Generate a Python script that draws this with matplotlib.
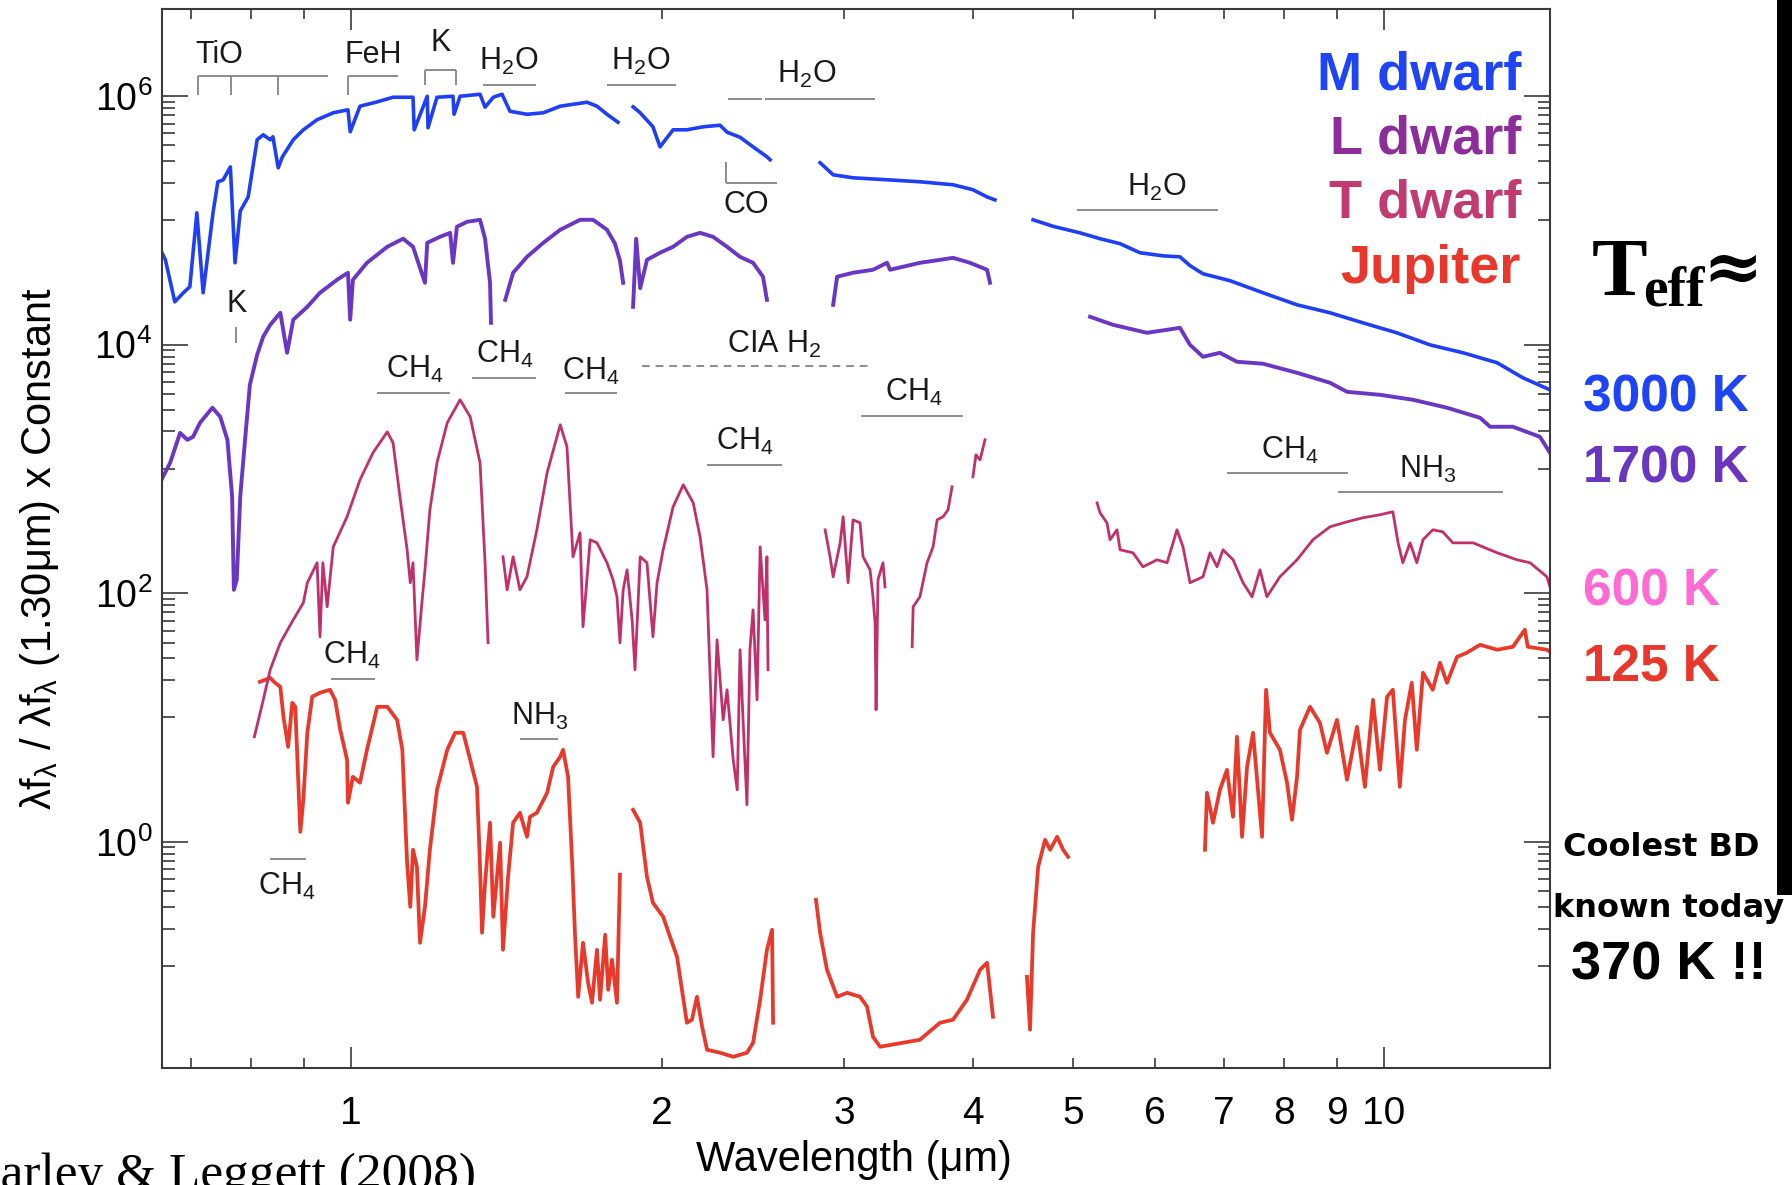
import numpy as np
import matplotlib
matplotlib.use("Agg")
import matplotlib.pyplot as plt
from matplotlib.ticker import FixedLocator, FuncFormatter, NullFormatter
from matplotlib.patches import Rectangle

# ---------------- data (wavelength in micron, log10 of scaled flux) ----------------
# M dwarf (3000 K)
m_wl_a = [0.656, 0.661, 0.675, 0.688, 0.698, 0.709, 0.719, 0.735, 0.743, 0.752, 0.764, 0.772, 0.781, 0.795, 0.811,
          0.822, 0.835, 0.840, 0.850, 0.858, 0.879, 0.899, 0.927, 0.961, 0.993, 0.998, 1.020, 1.060, 1.098, 1.148,
          1.151, 1.185, 1.187, 1.211, 1.255, 1.258, 1.275, 1.333, 1.348, 1.373, 1.400, 1.425, 1.480, 1.535, 1.594,
          1.692, 1.730, 1.769, 1.813]
m_lf_a = [4.739, 4.682, 4.344, 4.417, 4.465, 5.060, 4.417, 5.060, 5.310, 5.326, 5.430, 4.658, 5.074, 5.189, 5.648,
          5.688, 5.648, 5.672, 5.422, 5.511, 5.648, 5.728, 5.809, 5.865, 5.889, 5.712, 5.918, 5.953, 5.990, 5.990,
          5.728, 5.998, 5.744, 5.990, 5.998, 5.853, 5.998, 6.014, 5.910, 5.990, 6.014, 5.877, 5.853, 5.865, 5.918,
          5.950, 5.918, 5.853, 5.789]
m_wl_b = [1.875, 1.905, 1.960, 1.991, 2.050, 2.114, 2.191, 2.276, 2.312, 2.380, 2.450, 2.527, 2.545]
m_lf_b = [5.913, 5.865, 5.752, 5.591, 5.728, 5.728, 5.752, 5.765, 5.709, 5.668, 5.591, 5.511, 5.487]
m_wl_c = [2.845, 2.929, 3.062, 3.303, 3.554, 3.826, 4.0, 4.128, 4.201]
m_lf_c = [5.463, 5.366, 5.342, 5.326, 5.310, 5.286, 5.246, 5.188, 5.164]
m_wl_d = [4.574, 4.781, 5.078, 5.310, 5.553, 5.804, 6.112, 6.346, 6.49, 6.68, 7.095, 7.636, 8.239, 8.866, 9.543,
          10.29, 11.08, 11.93, 12.87, 13.63, 14.48]
m_lf_d = [5.004, 4.952, 4.899, 4.852, 4.812, 4.739, 4.714, 4.706, 4.635, 4.570, 4.514, 4.417, 4.320, 4.256, 4.175,
          4.095, 3.998, 3.934, 3.854, 3.733, 3.636]

# L dwarf (1700 K)
l_wl_a = [0.653, 0.668, 0.683, 0.694, 0.703, 0.714, 0.734, 0.747, 0.759, 0.767, 0.770, 0.775, 0.781, 0.786, 0.791,
          0.798, 0.811, 0.822, 0.835, 0.854, 0.867, 0.879, 0.907, 0.933, 0.969, 0.993, 0.998, 1.004, 1.036, 1.084,
          1.123, 1.148, 1.179, 1.185, 1.219, 1.247, 1.255, 1.266, 1.295, 1.333, 1.348, 1.363, 1.366]
l_lf_a = [2.888, 3.049, 3.290, 3.234, 3.258, 3.371, 3.492, 3.419, 3.234, 2.776, 2.027, 2.108, 2.776, 3.049, 3.315,
          3.677, 3.918, 4.063, 4.159, 4.256, 3.934, 4.200, 4.304, 4.417, 4.521, 4.578, 4.200, 4.521, 4.658, 4.787,
          4.852, 4.787, 4.497, 4.819, 4.867, 4.899, 4.658, 4.948, 4.988, 5.004, 4.852, 4.497, 4.175]
l_wl_b = [1.410, 1.435, 1.480, 1.535, 1.594, 1.666, 1.715, 1.769, 1.801, 1.821, 1.834]
l_lf_b = [4.360, 4.578, 4.706, 4.819, 4.924, 5.004, 5.004, 4.924, 4.812, 4.675, 4.497]
l_wl_c = [1.875, 1.888, 1.905, 1.934, 1.991, 2.050, 2.114, 2.177, 2.241, 2.312, 2.380, 2.450, 2.505, 2.527]
l_lf_c = [4.304, 4.852, 4.454, 4.682, 4.739, 4.787, 4.867, 4.899, 4.867, 4.787, 4.706, 4.658, 4.546, 4.360]
l_wl_d = [2.929, 2.955, 3.062, 3.201, 3.303, 3.325, 3.554, 3.717, 3.826, 3.974, 4.128, 4.155]
l_lf_d = [4.320, 4.546, 4.578, 4.602, 4.658, 4.602, 4.658, 4.682, 4.698, 4.658, 4.602, 4.497]
l_wl_e = [5.193, 5.467, 5.897, 6.166, 6.346, 6.49, 6.68, 6.937, 7.206, 7.636, 8.239, 8.866, 9.209, 9.911, 10.67,
          11.51, 12.39, 12.67, 13.33, 14.16, 14.48]
l_lf_e = [4.224, 4.159, 4.095, 4.119, 4.135, 3.998, 3.902, 3.934, 3.862, 3.846, 3.773, 3.693, 3.620, 3.596, 3.556,
          3.492, 3.411, 3.339, 3.339, 3.258, 3.129]

# T dwarf (600 K)
t_wl_a = [0.806, 0.820, 0.835, 0.854, 0.879, 0.899, 0.907, 0.927, 0.933, 0.939, 0.948, 0.961, 0.991, 1.020, 1.050,
          1.084, 1.098, 1.115, 1.133, 1.141, 1.148, 1.158, 1.171, 1.179, 1.192, 1.211, 1.239, 1.275, 1.304, 1.333,
          1.348, 1.357]
t_lf_a = [0.845, 1.102, 1.384, 1.601, 1.786, 1.923, 2.084, 2.245, 1.649, 2.245, 1.891, 2.373, 2.615, 2.912, 3.130,
          3.298, 3.210, 2.776, 2.349, 2.084, 2.245, 1.464, 1.923, 2.188, 2.671, 3.049, 3.371, 3.556, 3.419, 3.049,
          2.245, 1.601]
t_wl_b = [1.403, 1.416, 1.435, 1.457, 1.480, 1.513, 1.548, 1.594, 1.618, 1.640, 1.666, 1.677, 1.704, 1.730, 1.769,
          1.793, 1.809, 1.821, 1.834, 1.850, 1.871, 1.883, 1.905, 1.934, 1.960, 1.978, 2.005, 2.050, 2.097, 2.144,
          2.177, 2.211, 2.241, 2.261, 2.292, 2.312, 2.344, 2.365, 2.380, 2.396, 2.417, 2.433, 2.450, 2.472, 2.489,
          2.516, 2.527, 2.533]
t_lf_b = [2.293, 2.027, 2.293, 2.027, 2.132, 2.510, 2.969, 3.355, 3.178, 2.293, 2.486, 1.730, 2.430, 2.405, 2.245,
          2.108, 1.971, 1.601, 2.027, 2.188, 1.786, 1.384, 2.293, 2.245, 1.649, 2.084, 2.349, 2.695, 2.872, 2.727,
          2.454, 2.027, 0.684, 1.625, 0.981, 1.223, 0.660, 0.418, 1.545, 0.981, 0.298, 1.545, 1.866, 1.142, 2.373,
          1.786, 2.293, 1.384]
t_wl_c = [2.877, 2.909, 2.929, 2.975, 2.995, 3.028, 3.062, 3.110, 3.131, 3.180, 3.201, 3.216, 3.223, 3.237, 3.273, 3.288]
t_lf_c = [2.510, 2.293, 2.132, 2.405, 2.615, 2.084, 2.590, 2.566, 2.293, 2.188, 1.971, 1.762, 1.062, 2.108, 2.245, 2.051]
t_wl_d = [3.493, 3.501, 3.554, 3.611, 3.660, 3.693, 3.742, 3.784, 3.818]
t_lf_d = [1.569, 1.891, 1.971, 2.245, 2.373, 2.590, 2.615, 2.671, 2.856]
t_wl_e = [4.0, 4.027, 4.064, 4.109]
t_lf_e = [2.936, 3.113, 3.073, 3.234]
t_wl_f = [5.275, 5.310, 5.393, 5.430, 5.515, 5.553, 5.715, 5.844, 6.030, 6.166, 6.304, 6.389, 6.490, 6.680, 6.786,
          6.893, 6.985, 7.143, 7.304, 7.452, 7.585, 7.703, 7.930, 8.239, 8.536, 8.866, 9.209, 9.543, 9.911, 10.20,
          10.32, 10.43, 10.60, 10.76, 10.91, 11.15, 11.40, 11.66, 12.20, 12.87, 13.45, 13.85, 14.38, 14.48]
t_lf_f = [2.727, 2.647, 2.566, 2.430, 2.510, 2.349, 2.325, 2.212, 2.269, 2.245, 2.510, 2.373, 2.084, 2.132, 2.325,
          2.212, 2.349, 2.269, 2.084, 1.971, 2.188, 1.971, 2.132, 2.269, 2.430, 2.534, 2.574, 2.607, 2.631, 2.655,
          2.405, 2.245, 2.405, 2.245, 2.430, 2.510, 2.494, 2.405, 2.405, 2.325, 2.269, 2.245, 2.132, 2.051]

# Jupiter (125 K)
j_wl_a = [0.816, 0.835, 0.844, 0.854, 0.860, 0.869, 0.877, 0.883, 0.889, 0.893, 0.899, 0.907, 0.917, 0.933, 0.954,
          0.965, 0.976, 0.991, 0.993, 1.004, 1.020, 1.036, 1.060, 1.084, 1.108, 1.121, 1.128, 1.133, 1.141, 1.148,
          1.158, 1.166, 1.179, 1.192, 1.211, 1.239, 1.261, 1.284, 1.304, 1.324, 1.333, 1.339, 1.348, 1.363, 1.373,
          1.394, 1.403, 1.419, 1.435, 1.457, 1.480, 1.490, 1.513, 1.548, 1.569, 1.594, 1.604, 1.622, 1.637, 1.647,
          1.659, 1.677, 1.696, 1.711, 1.730, 1.742, 1.762, 1.774, 1.789, 1.809, 1.821]
j_lf_a = [1.287, 1.319, 1.279, 1.247, 1.006, 0.764, 1.118, 1.086, 0.475, 0.080, 0.338, 0.877, 1.167, 1.199, 1.223,
          1.142, 0.901, 0.660, 0.314, 0.523, 0.475, 0.740, 1.086, 1.086, 0.981, 0.740, 0.201, -0.169, -0.523, -0.064,
          -0.201, -0.813, -0.523, -0.064, 0.418, 0.740, 0.877, 0.877, 0.660, 0.442, -0.201, -0.732, -0.330, 0.153,
          -0.603, -0.008, -0.869, -0.282, 0.153, 0.233, 0.040, 0.201, 0.233, 0.394, 0.603, 0.684, 0.740, 0.523,
          -0.169, -0.732, -1.247, -0.813, -1.134, -1.295, -0.869, -1.271, -0.748, -1.191, -0.949, -1.295, -0.265]
j_wl_b = [1.875, 1.905, 1.934, 1.960, 2.005, 2.036, 2.068, 2.114, 2.138, 2.162, 2.187, 2.211, 2.276, 2.344, 2.417,
          2.450, 2.489, 2.527, 2.556, 2.562]
j_lf_b = [0.257, 0.153, -0.282, -0.491, -0.603, -0.764, -0.925, -1.456, -1.432, -1.247, -1.488, -1.673, -1.697,
          -1.730, -1.697, -1.617, -1.271, -0.869, -0.708, -1.456]
j_wl_c = [2.819, 2.845, 2.889, 2.955, 3.021, 3.110, 3.159, 3.201, 3.252, 3.421, 3.554, 3.717, 3.826, 3.947, 4.064,
          4.128, 4.183]
j_lf_c = [-0.467, -0.732, -1.030, -1.247, -1.215, -1.247, -1.327, -1.569, -1.649, -1.617, -1.593, -1.456, -1.432,
          -1.271, -1.030, -0.973, -1.408]
j_wl_d = [4.512, 4.543, 4.574, 4.626, 4.698, 4.751, 4.826, 4.891, 4.945]
j_lf_d = [-1.086, -1.512, -0.732, -0.201, 0.016, -0.064, 0.040, -0.064, -0.121]
j_wl_e = [6.710, 6.740, 6.831, 6.937, 7.047, 7.143, 7.206, 7.288, 7.370, 7.469, 7.620, 7.689, 7.756, 7.930, 8.057,
          8.147, 8.239, 8.293, 8.480, 8.670, 8.807, 9.006, 9.209, 9.417, 9.585, 9.759, 9.911, 10.07, 10.20, 10.36,
          10.48, 10.64, 10.76, 10.91, 11.15, 11.33, 11.51, 11.77, 12.03, 12.39, 12.87, 13.33, 13.69, 13.78, 14.38,
          14.48]
j_lf_e = [-0.064, 0.394, 0.153, 0.418, 0.579, 0.201, 0.845, 0.040, 0.603, 0.877, 0.040, 1.223, 0.877, 0.740, 0.475,
          0.177, 0.523, 0.901, 1.086, 0.957, 0.716, 0.981, 0.499, 0.925, 0.442, 1.142, 0.579, 1.167, 1.223, 0.442,
          0.981, 1.279, 0.740, 1.360, 1.223, 1.440, 1.279, 1.488, 1.521, 1.585, 1.545, 1.569, 1.706, 1.569, 1.545,
          1.529]

legend_names = ["M dwarf", "L dwarf", "T dwarf", "Jupiter"]
teff_labels = ["3000 K", "1700 K", "600 K", "125 K"]
x_tick_values = [0.7, 0.8, 0.9, 1, 2, 3, 4, 5, 6, 7, 8, 9, 10]
x_tick_labels = ["", "", "", "1", "2", "3", "4", "5", "6", "7", "8", "9", "10"]
y_major_exponents = [0, 2, 4, 6]

# ---------------- styling ----------------
C_M, C_L, C_T, C_J = "#1f3ff6", "#6a36c4", "#c2306c", "#e8392a"
LEG_COLORS = ["#1f44f5", "#8d2d9c", "#c13a72", "#e8382b"]
TEFF_COLORS = ["#1f44f5", "#6a35c0", "#ff6ad5", "#e8382b"]
GRAY = "#8c8c8c"

plt.rcParams["font.family"] = ["Liberation Sans Narrow", "Liberation Sans", "DejaVu Sans"]
plt.rcParams["mathtext.default"] = "regular"

W, H = 1792, 1185
fig = plt.figure(figsize=(W / 100, H / 100), dpi=100)
fig.patch.set_facecolor("white")
ax = fig.add_axes([162 / W, 1 - 1068 / H, (1550 - 162) / W, (1068 - 9) / H])
ax.set_xscale("log")
ax.set_yscale("log")
ax.set_xlim(0.656, 14.48)
ax.set_ylim(10 ** -1.82, 10 ** 6.70)


def spec(wl, lf, color, lw):
    ax.plot(wl, np.power(10.0, lf), color=color, lw=lw, solid_joinstyle="round")


for wl, lf in [(m_wl_a, m_lf_a), (m_wl_b, m_lf_b), (m_wl_c, m_lf_c), (m_wl_d, m_lf_d)]:
    spec(wl, lf, C_M, 2.6)
for wl, lf in [(l_wl_a, l_lf_a), (l_wl_b, l_lf_b), (l_wl_c, l_lf_c), (l_wl_d, l_lf_d), (l_wl_e, l_lf_e)]:
    spec(wl, lf, C_L, 2.8)
for wl, lf in [(j_wl_a, j_lf_a), (j_wl_b, j_lf_b), (j_wl_c, j_lf_c), (j_wl_d, j_lf_d), (j_wl_e, j_lf_e)]:
    spec(wl, lf, C_J, 2.7)
for wl, lf in [(t_wl_a, t_lf_a), (t_wl_b, t_lf_b), (t_wl_c, t_lf_c), (t_wl_d, t_lf_d), (t_wl_e, t_lf_e),
               (t_wl_f, t_lf_f)]:
    spec(wl, lf, C_T, 2.0)

# ---------------- axes, ticks ----------------
for s in ax.spines.values():
    s.set_color("#3a3a3a")
    s.set_linewidth(1.5)

ax.xaxis.set_major_locator(FixedLocator([1, 10]))
ax.xaxis.set_minor_locator(FixedLocator([v for v in x_tick_values if v not in (1, 10)]))
lab = dict(zip(x_tick_values, x_tick_labels))
ax.xaxis.set_major_formatter(FuncFormatter(lambda v, p: lab.get(round(v, 3), "")))
ax.xaxis.set_minor_formatter(FuncFormatter(lambda v, p: lab.get(round(v, 3), "")))

ax.yaxis.set_major_locator(FixedLocator([10.0 ** e for e in y_major_exponents]))
ax.yaxis.set_minor_locator(FixedLocator([m * 10.0 ** e for e in (-1, 1, 3, 5) for m in range(1, 10)]))
ax.yaxis.set_major_formatter(FuncFormatter(lambda v, p: r"$\mathregular{10^{%d}}$" % round(np.log10(v))))
ax.yaxis.set_minor_formatter(NullFormatter())

ax.tick_params(which="both", direction="in", top=True, right=True, color="#3a3a3a", width=1.2)
ax.tick_params(axis="x", which="major", length=15)
ax.tick_params(axis="x", which="minor", length=7)
ax.tick_params(axis="x", which="both", labelsize=28, pad=20)
ax.tick_params(axis="y", which="major", length=19, labelsize=27, pad=7)
ax.tick_params(axis="y", which="minor", length=9)

# ---------------- band annotations ----------------
def hseg(x0, x1, ly, **kw):
    ax.plot([x0, x1], [10 ** ly, 10 ** ly], color=GRAY, lw=1.4, solid_capstyle="butt", **kw)


def vseg(x, ly0, ly1):
    ax.plot([x, x], [10 ** ly0, 10 ** ly1], color=GRAY, lw=1.4, solid_capstyle="butt")


def lbl(s, x, ly, size=22):
    ax.text(x, 10 ** ly, s, ha="center", va="center", fontsize=size, color="#1a1a1a")


lbl("TiO", 0.745, 6.33)
hseg(0.711, 0.950, 6.163)
for xv in (0.711, 0.765, 0.850):
    vseg(xv, 6.163, 6.010)
lbl("FeH", 1.050, 6.33)
hseg(0.993, 1.110, 6.163)
vseg(0.993, 6.163, 6.010)
lbl("K", 1.220, 6.43)
hseg(1.179, 1.264, 6.211)
vseg(1.179, 6.211, 6.090)
vseg(1.264, 6.211, 6.090)
lbl("H$_2$O", 1.422, 6.275)
hseg(1.342, 1.510, 6.090)
lbl("H$_2$O", 1.909, 6.275)
hseg(1.769, 2.064, 6.090)
lbl("H$_2$O", 2.764, 6.17)
hseg(2.317, 2.500, 5.977)
hseg(2.516, 3.217, 5.977)
vseg(2.307, 5.471, 5.302)
hseg(2.307, 2.585, 5.302)
lbl("CO", 2.412, 5.125)
lbl("CIA H$_2$", 2.567, 4.0)
hseg(1.913, 3.167, 3.829, linestyle=(0, (4, 3)))
lbl("H$_2$O", 6.03, 5.261)
hseg(5.044, 6.908, 5.084)
lbl("K", 0.774, 4.328)
vseg(0.774, 4.143, 4.014)
lbl("CH$_4$", 1.153, 3.797)
hseg(1.060, 1.247, 3.612)
lbl("CH$_4$", 1.410, 3.918)
hseg(1.310, 1.510, 3.733)
lbl("CH$_4$", 1.707, 3.781)
hseg(1.612, 1.809, 3.612)
lbl("CH$_4$", 2.407, 3.218)
hseg(2.211, 2.614, 3.033)
lbl("CH$_4$", 3.508, 3.612)
hseg(3.116, 3.912, 3.427)
lbl("CH$_4$", 8.11, 3.146)
hseg(7.047, 9.23, 2.969)
lbl("NH$_3$", 11.03, 2.993)
hseg(9.03, 13.04, 2.816)
lbl("CH$_4$", 1.002, 1.496)
hseg(0.956, 1.055, 1.311)
lbl("NH$_3$", 1.524, 1.006)
hseg(1.457, 1.586, 0.829)
lbl("CH$_4$", 0.867, -0.362)
hseg(0.835, 0.905, -0.137)

# ---------------- outside texts ----------------
def ftext(xp, yp, s, **kw):
    return fig.text(xp / W, 1 - yp / H, s, **kw)


# dark strip along the right edge of the original slide
fig.patches.append(Rectangle((1777 / W, 1 - 895 / H), 15 / W, 895 / H, transform=fig.transFigure,
                             facecolor="black", edgecolor="none", zorder=0))

SANS_B = ["Liberation Sans", "DejaVu Sans"]
for name, col, yb in zip(legend_names, LEG_COLORS, [90, 153, 218, 283]):
    ftext(1521, yb, name, ha="right", va="baseline", fontsize=39, fontweight="bold", color=col, family=SANS_B)

ftext(1592, 295, "T", ha="left", va="baseline", fontsize=60, fontweight="bold",
      family=["Liberation Serif", "DejaVu Serif"])
ftext(1643, 306, "eff", ha="left", va="baseline", fontsize=40, fontweight="bold",
      family=["Liberation Serif", "DejaVu Serif"])
ftext(1733, 270, "\u2248", ha="center", va="center", fontsize=52, fontweight="bold",
      family=["DejaVu Serif"])

for txt, col, yb in zip(teff_labels, TEFF_COLORS, [412, 483, 605, 681]):
    ftext(1583, yb, txt, ha="left", va="baseline", fontsize=37, fontweight="bold", color=col, family=SANS_B)

ftext(1661, 848, "Coolest BD", ha="center", va="center", fontsize=23, fontweight="bold",
      family=["DejaVu Sans"])
ftext(1669, 909, "known today", ha="center", va="center", fontsize=23, fontweight="bold",
      family=["DejaVu Sans"])
ftext(1669, 966, "370 K !!", ha="center", va="center", fontsize=39, fontweight="bold", family=SANS_B)

ftext(854, 1160, "Wavelength (\u03bcm)", ha="center", va="center", fontsize=30)
ftext(40, 549, "\u03bbf$_\u03bb$ / \u03bbf$_\u03bb$ (1.30\u03bcm) x Constant", ha="center", va="center",
      rotation=90, fontsize=30)
ftext(-45, 1188, "Marley & Leggett (2008)", ha="left", va="baseline", fontsize=37,
      family=["Liberation Serif", "DejaVu Serif"])

fig.savefig("out.png", dpi=100)
